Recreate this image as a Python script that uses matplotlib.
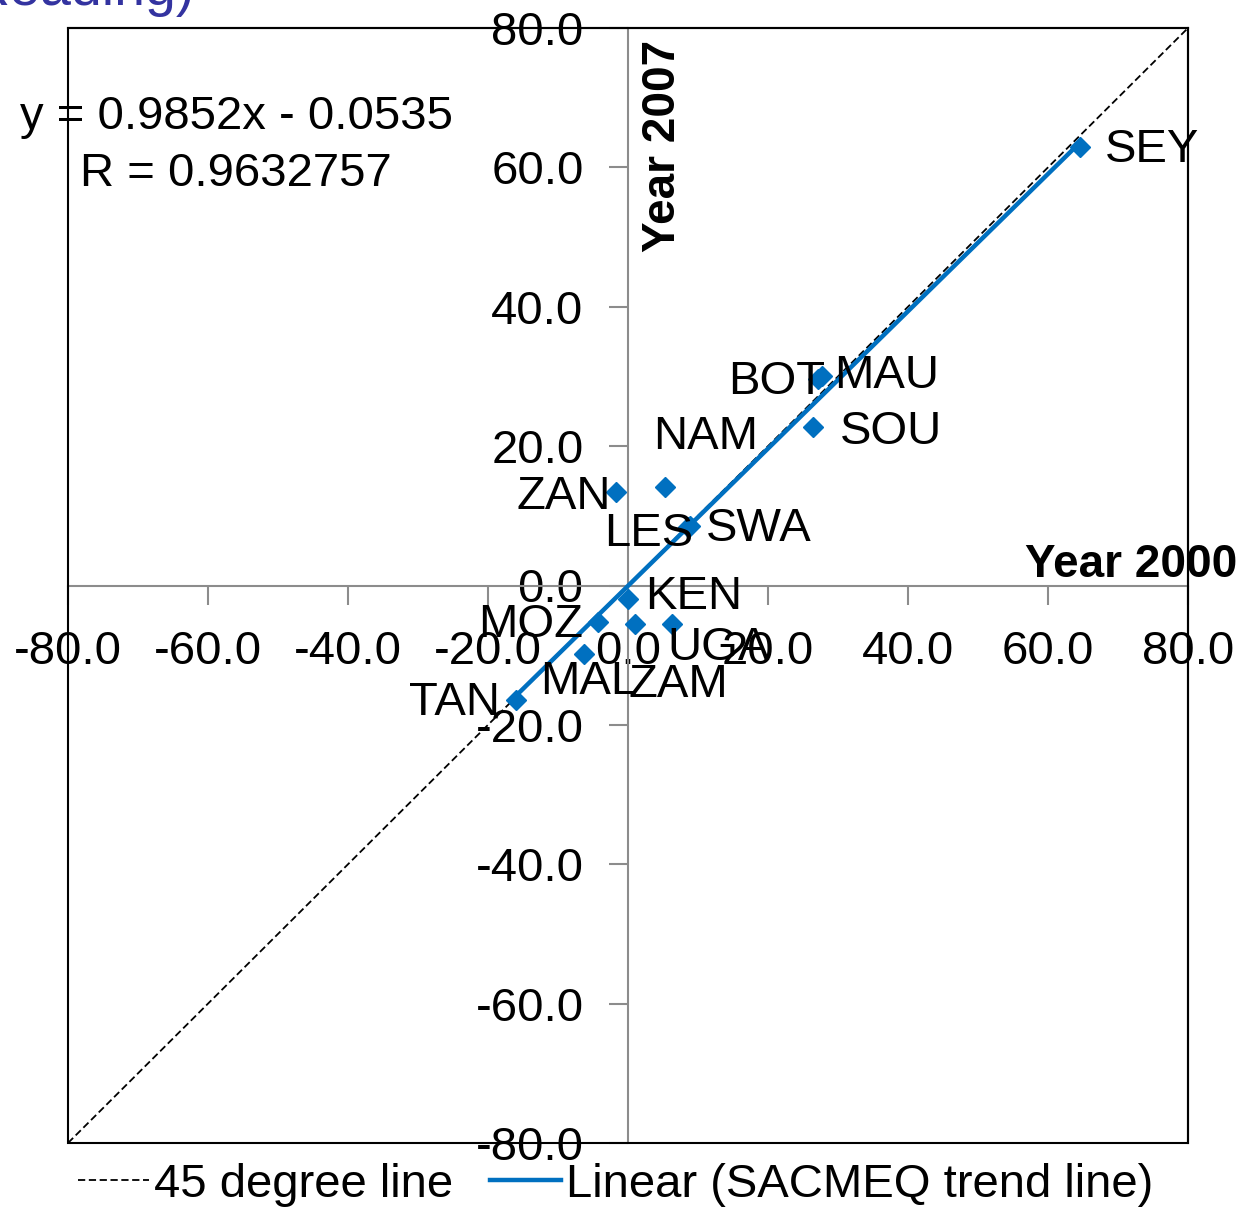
import matplotlib.pyplot as plt
from matplotlib.patches import Rectangle
from matplotlib.ticker import FormatStrFormatter

plt.rcParams['font.family'] = ['Liberation Sans', 'DejaVu Sans']

# Länderkürzel und Werte (Jahr 2000 gegen Jahr 2007)
codes = ['SEY', 'BOT', 'MAU', 'SOU', 'NAM', 'ZAN', 'LES', 'SWA',
         'KEN', 'MOZ', 'ZAM', 'UGA', 'MAL', 'TAN']
year2000 = [64.6, 27.1, 27.7, 26.4, 5.3, -1.7, 8.6, 8.9,
            0.0, -4.3, 1.0, 6.3, -6.3, -16.0]
year2007 = [62.9, 29.6, 30.0, 22.7, 14.1, 13.4, 8.4, 8.5,
            -1.9, -5.2, -5.5, -5.5, -9.8, -16.4]
slope = 0.9852
intercept = -0.0535
r_value = '0.9632757'
ticks = [-80, -60, -40, -20, 0, 20, 40, 60, 80]

# Beschriftungs-Versatz in Pixeln (dx, dy, Ausrichtung)
label_pos = {
    'SEY': (25, -3, 'left'), 'BOT': (8, -3, 'right'), 'MAU': (12, 0, 'left'),
    'SOU': (27, -5, 'left'), 'NAM': (-12, 50, 'left'), 'ZAN': (-5, -5, 'right'),
    'LES': (5, -7, 'right'), 'SWA': (16, -3, 'left'), 'KEN': (17, 2, 'left'),
    'MOZ': (-15, -3, 'right'), 'ZAM': (-7, -61, 'left'), 'UGA': (-5, -24, 'left'),
    'MAL': (-44, -28, 'left'), 'TAN': (-16, -3, 'right'),
}

blue = '#0070C0'
fs = 34

fig = plt.figure(figsize=(12.41, 12.10), dpi=100)
ax = fig.add_axes([68 / 1241, 1 - 1143 / 1210, 1120 / 1241, 1115 / 1210])

ax.plot([-80, 80], [-80, 80], color='black', linestyle=(0, (4, 2)), linewidth=1.3,
        label='45 degree line', zorder=2)
xs = [min(year2000), max(year2000)]
ax.plot(xs, [slope * x + intercept for x in xs], color=blue, linewidth=3.2,
        label='Linear (SACMEQ trend line)', zorder=3)
ax.plot(year2000, year2007, linestyle='none', marker='D', markersize=10,
        color=blue, zorder=4)

for c, x, y in zip(codes, year2000, year2007):
    dx, dy, ha = label_pos[c]
    ax.annotate(c, (x, y), xytext=(dx, dy), textcoords='offset pixels',
                ha=ha, va='center', fontsize=fs, zorder=5)

ax.set_xlim(-80, 80)
ax.set_ylim(-80, 80)
ax.set_xticks(ticks)
ax.set_yticks(ticks)
ax.xaxis.set_major_formatter(FormatStrFormatter('%.1f'))
ax.yaxis.set_major_formatter(FormatStrFormatter('%.1f'))

# Achsen durch den Nullpunkt
for s in ['left', 'bottom']:
    ax.spines[s].set_position(('data', 0))
    ax.spines[s].set_color('#8c8c8c')
    ax.spines[s].set_linewidth(1.5)
for s in ['top', 'right']:
    ax.spines[s].set_color('black')
    ax.spines[s].set_linewidth(1.5)
ax.add_patch(Rectangle((0, 0), 1, 1, transform=ax.transAxes, fill=False,
                       edgecolor='black', linewidth=1.5, clip_on=False, zorder=6))
ax.tick_params(direction='out', length=14, width=1.5, color='#8c8c8c',
               labelsize=fs, pad=18)

# Achsentitel
fig.text(1237 / 1241, 1 - 565 / 1210, 'Year 2000', ha='right', va='center',
         fontsize=33, fontweight='bold')
fig.text(663 / 1241, 1 - 40 / 1210, 'Year 2007', ha='center', va='top',
         rotation=90, fontsize=33, fontweight='bold')

# Gleichung der Trendlinie
fig.text(236 / 1241, 1 - 117 / 1210, f'y = {slope}x - {abs(intercept)}',
         ha='center', va='center', fontsize=fs)
fig.text(236 / 1241, 1 - 174 / 1210, f'R = {r_value}',
         ha='center', va='center', fontsize=fs)

# abgeschnittener Titel oben
fig.text(195 / 1241, 1 - 5 / 1210, 'Reading)', ha='right', va='baseline',
         fontsize=40, color='#3333a0')

fig.legend(loc='center left', bbox_to_anchor=(78 / 1241, 1 - 1185 / 1210),
           ncol=2, frameon=False, fontsize=fs, handlelength=1.5,
           handletextpad=0.1, columnspacing=0.8, borderpad=0, borderaxespad=0)

fig.savefig('out.png', dpi=100)
